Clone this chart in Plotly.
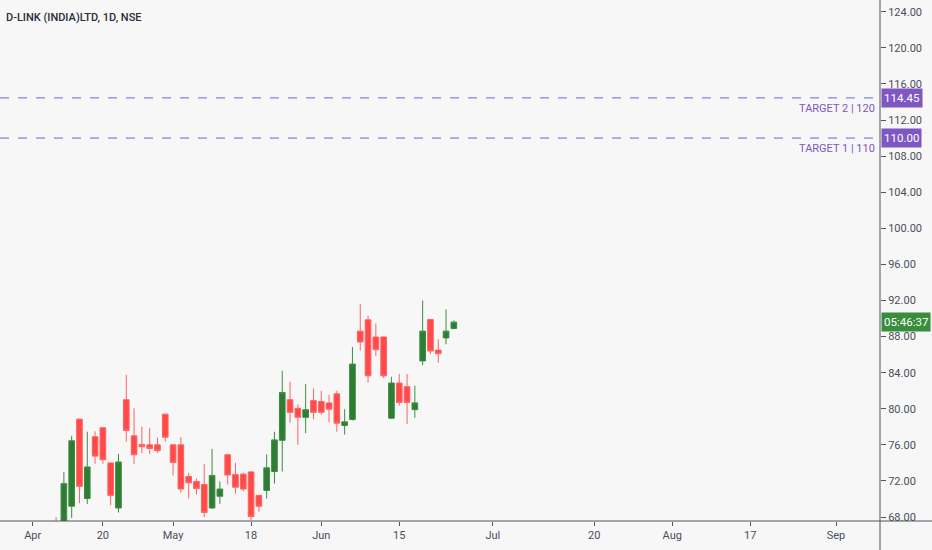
import pandas as pd
import plotly.graph_objects as go

dates = ["2020-04-08","2020-04-09","2020-04-13","2020-04-15","2020-04-16","2020-04-17","2020-04-20",
         "2020-04-21","2020-04-22","2020-04-23","2020-04-24","2020-04-27","2020-04-28","2020-04-29",
         "2020-04-30","2020-05-04","2020-05-05","2020-05-06","2020-05-07","2020-05-08","2020-05-11",
         "2020-05-12","2020-05-13","2020-05-14","2020-05-15","2020-05-18","2020-05-19","2020-05-20",
         "2020-05-21","2020-05-22","2020-05-26","2020-05-27","2020-05-28","2020-05-29","2020-06-01",
         "2020-06-02","2020-06-03","2020-06-04","2020-06-05","2020-06-08","2020-06-09","2020-06-10",
         "2020-06-11","2020-06-12","2020-06-15","2020-06-16","2020-06-17","2020-06-18","2020-06-19",
         "2020-06-22","2020-06-23","2020-06-24"]
open_ = [67.0, 66.8, 69.2, 78.85, 70.05, 76.9, 77.9, 74.0, 69.0, 81.0, 77.0, 76.05, 76.0, 76.0,
         79.4, 76.0, 76.0, 72.5, 71.95, 71.6, 69.0, 70.3, 74.9, 72.7, 72.75, 73.0, 70.4, 70.95,
         73.05, 76.5, 81.0, 80.05, 79.05, 80.9, 80.8, 80.65, 81.65, 78.15, 78.8, 88.6, 89.85, 87.95,
         87.95, 78.95, 82.85, 82.45, 79.9, 85.3, 89.9, 86.5, 87.85, 88.9]
high = [68.0, 73.0, 77.0, 78.9, 77.45, 77.5, 77.95, 74.05, 75.0, 83.75, 80.05, 78.0, 77.85, 76.8,
        79.45, 76.05, 76.85, 72.9, 72.25, 73.9, 75.55, 71.95, 75.0, 74.0, 72.9, 73.05, 70.45, 74.95,
        77.45, 84.2, 83.0, 80.5, 82.75, 82.25, 82.0, 81.55, 82.0, 79.95, 86.85, 91.6, 90.3, 89.45,
        88.0, 83.55, 83.85, 83.85, 82.55, 92.0, 89.95, 87.7, 91.0, 89.8]
low = [66.2, 66.5, 67.9, 69.55, 69.45, 73.9, 73.9, 69.3, 68.5, 76.35, 73.85, 75.1, 75.0, 75.1,
       76.35, 72.6, 70.7, 70.05, 70.5, 68.0, 68.95, 69.45, 71.6, 70.6, 70.85, 67.65, 68.6, 70.05,
       71.7, 73.05, 78.45, 76.0, 77.3, 78.85, 79.35, 78.5, 77.45, 77.15, 78.7, 86.45, 82.9, 85.85,
       83.4, 78.9, 80.35, 78.3, 79.0, 84.85, 86.05, 85.1, 87.15, 88.8]
close = [66.6, 71.7, 76.45, 71.4, 73.55, 74.75, 74.35, 70.4, 74.1, 77.6, 74.9, 75.8, 75.6, 75.35,
         76.85, 74.05, 71.1, 71.8, 71.15, 68.5, 72.6, 71.1, 72.65, 71.3, 71.1, 68.05, 69.2, 73.45,
         76.55, 81.8, 79.6, 79.05, 79.9, 79.6, 79.6, 79.95, 78.4, 78.55, 84.95, 87.4, 83.65, 86.55,
         83.65, 82.85, 80.7, 80.7, 80.65, 88.6, 86.4, 86.1, 88.6, 89.6]

holidays = ["2020-04-02", "2020-04-06", "2020-04-10", "2020-04-14", "2020-05-01", "2020-05-25"]
axis_days = [d.strftime("%Y-%m-%d") for d in pd.bdate_range("2020-04-01", "2020-09-15")
             if d.strftime("%Y-%m-%d") not in holidays]

tick_vals = ["2020-04-01","2020-04-20","2020-05-04","2020-05-18","2020-06-01","2020-06-15",
             "2020-07-01","2020-07-20","2020-08-03","2020-08-17","2020-09-01"]
tick_text = ["Apr","20","May","18","Jun","15","Jul","20","Aug","17","Sep"]

y_ticks = [68, 72, 76, 80, 84, 88, 92, 96, 100, 104, 108, 112, 116, 120, 124]
targets = [114.45, 110.00]
target_labels = ["TARGET 2 | 120", "TARGET 1 | 110"]
countdown = "05:46:37"

BG = "#F7F7F7"
AXC = "#50535E"
PURPLE = "#7E57C2"
FONT = "Roboto, Liberation Sans, sans-serif"

fig = go.Figure()
fig.add_trace(go.Candlestick(
    x=dates, open=open_, high=high, low=low, close=close,
    increasing=dict(line=dict(color="#3C8C42", width=1), fillcolor="#2E7D32"),
    decreasing=dict(line=dict(color="#FF6262", width=1), fillcolor="#FF4A4A"),
    whiskerwidth=0, hoverinfo="skip", showlegend=False,
))

W, H = 932, 550
ml, mr, mt, mb = 0, 52, 0, 29
pw, ph = W - ml - mr, H - mt - mb

shapes = []
annotations = []
for val, lab in zip(targets, target_labels):
    shapes.append(dict(type="line", xref="paper", yref="y", x0=0, x1=1, y0=val, y1=val,
                       line=dict(color="#6B63D9", width=1, dash="dash")))
    annotations.append(dict(xref="paper", yref="y", x=1, y=val, xanchor="right", yanchor="top",
                            xshift=-3, yshift=-2, text=lab, showarrow=False,
                            font=dict(family=FONT, size=11, color=PURPLE)))
    annotations.append(dict(xref="paper", yref="y", x=1, y=val, xanchor="left", yanchor="middle",
                            xshift=1, text=f"{val:.2f}", showarrow=False, bgcolor=PURPLE,
                            borderpad=2, font=dict(family=FONT, size=11.5, color="white")))

annotations.append(dict(xref="paper", yref="y", x=1, y=close[-1], xanchor="left", yanchor="middle",
                        xshift=1, text=countdown, showarrow=False, bgcolor="#388E3C",
                        borderpad=2, font=dict(family=FONT, size=11.5, color="white")))
annotations.append(dict(xref="paper", yref="paper", x=0, y=1, xanchor="left", yanchor="middle",
                        xshift=4, yshift=-17, text="D-LINK (INDIA)LTD, 1D, NSE", showarrow=False,
                        font=dict(family=FONT, size=11, color="#2A2E39", weight=500)))

# axis frame lines extending to the figure edges
shapes.append(dict(type="line", xref="paper", yref="paper", x0=0, x1=W / pw, y0=0, y1=0,
                   line=dict(color=AXC, width=1)))
shapes.append(dict(type="line", xref="paper", yref="paper", x0=1, x1=1, y0=-mb / ph, y1=1,
                   line=dict(color=AXC, width=1)))

fig.update_layout(
    width=W, height=H,
    margin=dict(l=ml, r=mr, t=mt, b=mb),
    paper_bgcolor=BG, plot_bgcolor=BG,
    boxgap=0.15, boxgroupgap=0.15,
    shapes=shapes, annotations=annotations,
    font=dict(family=FONT, size=11, color="#4A4E59"),
    xaxis=dict(type="category", categoryorder="array", categoryarray=axis_days,
               range=[-4.19, 108.64], rangeslider=dict(visible=False),
               tickmode="array", tickvals=tick_vals, ticktext=tick_text,
               showgrid=False, zeroline=False, showline=False,
               ticks="outside", ticklen=4, tickcolor=AXC, tickfont=dict(size=11)),
    yaxis=dict(side="right", range=[67.56, 125.3], tickmode="array", tickvals=y_ticks,
               tickformat=".2f", showgrid=False, zeroline=False, showline=False,
               ticks="outside", ticklen=5, tickcolor=AXC, tickfont=dict(size=11)),
)

fig.write_html("out.html", config={"displayModeBar": False},
               post_script="document.body.style.margin='0';document.body.style.overflow='hidden';")
